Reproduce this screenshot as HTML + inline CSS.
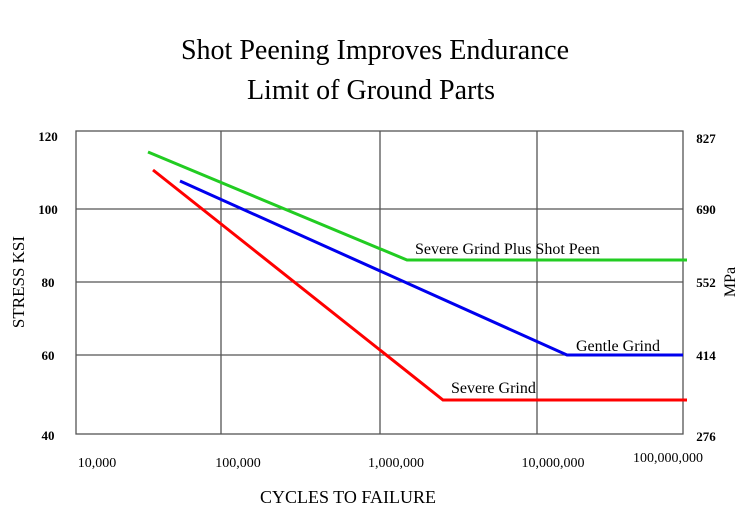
<!DOCTYPE html>
<html><head><style>body{margin:0;background:#fff}</style></head><body>
<svg width="740" height="513" xmlns="http://www.w3.org/2000/svg" font-family="Liberation Serif, serif">
<rect width="740" height="513" fill="#fff"/>
<text x="375" y="59" font-size="28" text-anchor="middle">Shot Peening Improves Endurance</text>
<text x="371" y="99" font-size="28" text-anchor="middle">Limit of Ground Parts</text>
<g stroke="#555" stroke-width="1.3" fill="none">
<rect x="76" y="131" width="607" height="303"/>
<line x1="221" y1="131" x2="221" y2="434"/>
<line x1="380" y1="131" x2="380" y2="434"/>
<line x1="537" y1="131" x2="537" y2="434"/>
<line x1="76" y1="209" x2="683" y2="209"/>
<line x1="76" y1="282" x2="683" y2="282"/>
<line x1="76" y1="355" x2="683" y2="355"/>
</g>
<g fill="none" stroke-width="3">
<polyline points="148,152 407,260 687,260" stroke="#22cc22"/>
<polyline points="180,181 567,355 683,355" stroke="#0000ee"/>
<polyline points="153,170 443,400 687,400" stroke="#ff0000"/>
</g>
<g font-size="13" font-weight="bold" text-anchor="middle">
<text x="48" y="141">120</text>
<text x="48" y="214">100</text>
<text x="48" y="287">80</text>
<text x="48" y="360">60</text>
<text x="48" y="440">40</text>
<text x="706" y="143">827</text>
<text x="706" y="214">690</text>
<text x="706" y="287">552</text>
<text x="706" y="360">414</text>
<text x="706" y="441">276</text>
</g>
<g font-size="14" text-anchor="middle">
<text x="97" y="467">10,000</text>
<text x="238" y="467">100,000</text>
<text x="396" y="467">1,000,000</text>
<text x="553" y="467">10,000,000</text>
<text x="668" y="462">100,000,000</text>
</g>
<g font-size="16">
<text x="415" y="254">Severe Grind Plus Shot Peen</text>
<text x="576" y="351">Gentle Grind</text>
<text x="451" y="393">Severe Grind</text>
</g>
<text x="348" y="503" font-size="18" text-anchor="middle">CYCLES TO FAILURE</text>
<text transform="translate(24,282) rotate(-90)" font-size="17" text-anchor="middle">STRESS KSI</text>
<text transform="translate(735,282) rotate(-90)" font-size="16" text-anchor="middle">MPa</text>
</svg>
</body></html>
